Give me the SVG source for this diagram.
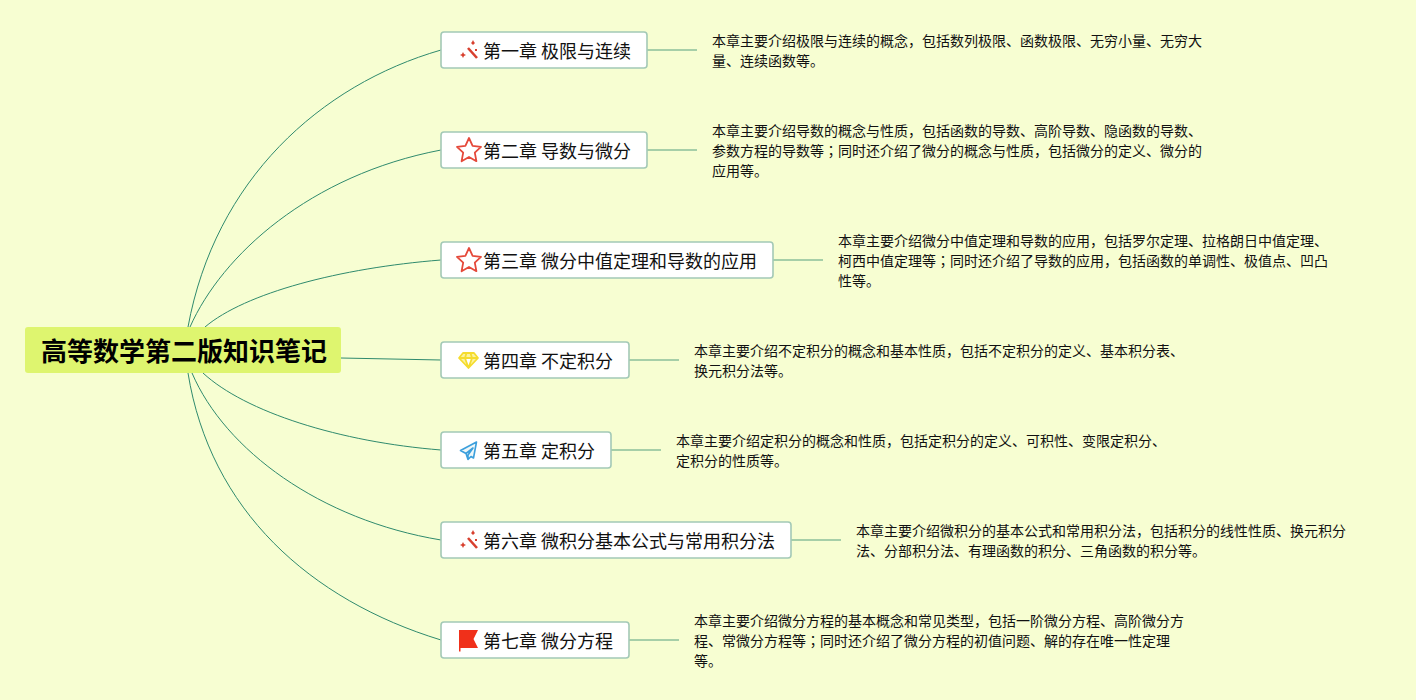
<svg xmlns="http://www.w3.org/2000/svg" width="1416" height="700" viewBox="0 0 1416 700">
<style>
.c{fill:none;stroke:#2f8a6d;stroke-width:1}
.s{fill:none;stroke:#8cc09a;stroke-width:1.6}
.b{fill:#fff;stroke:#a3c9b6;stroke-width:1.6}
.t{font:18px "Noto Sans CJK SC","Liberation Sans",sans-serif;fill:#111}
.d{font:14px "Noto Sans CJK SC","Liberation Sans",sans-serif;fill:#111}
.r{font:bold 26px "Noto Sans CJK SC","Liberation Sans",sans-serif;fill:#000}
.j{font-family:"Noto Sans CJK JP",sans-serif}
</style>
<defs>
<g id="wand"><path d="M-1 -3L8 7" fill="none" stroke="#d8402f" stroke-width="2.600"/><path d="M-9 4l2-1 1-2 1 2 2 1-2 1-1 2-1-2zM2 -8l1-1 1-2 1 2 1 1-1 1-1 1-1-1zM6 -2h2v2h-2z" fill="#d8402f"/></g>
<path id="star" d="M0 -12L3.600 -4.200 12 -3.100 5.800 2.700 7.400 11.200 0 7-7.400 11.200-5.800 2.700-12-3.100-3.600-4.200Z" fill="#fff" stroke="#e5493a" stroke-width="1.800" stroke-linejoin="round"/>
</defs>
<rect width="1416" height="700" fill="#f7fed2"/>
<g id="connectors">
<path class="c" d="M188 327C215 180 320 85 441 50"/>
<path class="c" d="M190 327C222 255 310 175 441 150"/>
<path class="c" d="M205 327C245 293 340 268 441 260"/>
<path class="c" d="M341 358L441 360"/>
<path class="c" d="M203 373C245 412 340 442 441 450"/>
<path class="c" d="M192 373C225 450 320 520 441 540"/>
<path class="c" d="M188 373C210 510 310 600 441 640"/>
<path class="s" d="M647 50H697M647 150H697M773 260H823M629 360H679M611 450H661M791 540H841M629 640H679"/>
</g>
<g id="root"><rect x="25" y="327" width="316" height="46" rx="3" fill="#def56f"/><text class="r" x="41" y="361">高等数学第二版知识笔记</text></g>
<g id="n1"><rect class="b" x="441" y="32" width="206" height="36" rx="3"/><use href="#wand" x="469" y="51"/><text class="t" x="483" y="58">第一章 极限与连续</text></g>
<g id="d1"><text class="d" x="712" y="46">本章主要介绍极限与连续的概念，包括数列极限、函数极限、无穷小量、无穷大</text><text class="d" x="712" y="66">量、连续函数等。</text></g>
<g id="n2"><rect class="b" x="441" y="132" width="206" height="36" rx="3"/><use href="#star" x="469" y="150"/><text class="t" x="483" y="158">第二章 导数与微分</text></g>
<g id="d2"><text class="d" x="712" y="136">本章主要介绍导数的概念与性质，包括函数的导数、高阶导数、隐函数的导数、</text><text class="d" x="712" y="156">参数方程的导数等<tspan class="j">；</tspan>同时还介绍了微分的概念与性质，包括微分的定义、微分的</text><text class="d" x="712" y="176">应用等。</text></g>
<g id="n3"><rect class="b" x="441" y="242" width="332" height="36" rx="3"/><use href="#star" x="469" y="260"/><text class="t" x="483" y="268">第三章 微分中值定理和导数的应用</text></g>
<g id="d3"><text class="d" x="838" y="246">本章主要介绍微分中值定理和导数的应用，包括罗尔定理、拉格朗日中值定理、</text><text class="d" x="838" y="266">柯西中值定理等<tspan class="j">；</tspan>同时还介绍了导数的应用，包括函数的单调性、极值点、凹凸</text><text class="d" x="838" y="286">性等。</text></g>
<g id="n4"><rect class="b" x="441" y="342" width="188" height="36" rx="3"/><path d="M463 353h11l4 5-9.500 10-9.500-10zM459.500 358h18M465 358l3.500 10 3.500-10M465 358l1.500-5M472 358l-1.500-5" fill="#fbf3a0" stroke="#f5dc2e" stroke-width="1.800" stroke-linejoin="round"/><text class="t" x="483" y="368">第四章 不定积分</text></g>
<g id="d4"><text class="d" x="694" y="356">本章主要介绍不定积分的概念和基本性质，包括不定积分的定义、基本积分表、</text><text class="d" x="694" y="376">换元积分法等。</text></g>
<g id="n5"><rect class="b" x="441" y="432" width="170" height="36" rx="3"/><path d="M476.500 442L460.500 450.500 466 453.500 473 448 468 455 468 459.500 471 456.500 473.500 458ZM466 453.500L468 459.500" fill="#eef7f8" stroke="#3c9fdc" stroke-width="1.600" stroke-linejoin="round"/><text class="t" x="483" y="458">第五章 定积分</text></g>
<g id="d5"><text class="d" x="676" y="446">本章主要介绍定积分的概念和性质，包括定积分的定义、可积性、变限定积分、</text><text class="d" x="676" y="466">定积分的性质等。</text></g>
<g id="n6"><rect class="b" x="441" y="522" width="350" height="36" rx="3"/><use href="#wand" x="469" y="541"/><text class="t" x="483" y="548">第六章 微积分基本公式与常用积分法</text></g>
<g id="d6"><text class="d" x="856" y="536">本章主要介绍微积分的基本公式和常用积分法，包括积分的线性性质、换元积分</text><text class="d" x="856" y="556">法、分部积分法、有理函数的积分、三角函数的积分等。</text></g>
<g id="n7"><rect class="b" x="441" y="622" width="188" height="36" rx="3"/><path d="M459 630H478L473.500 639 478 648H460.500V651.500H459Z" fill="#f0301a"/><text class="t" x="483" y="648">第七章 微分方程</text></g>
<g id="d7"><text class="d" x="694" y="626">本章主要介绍微分方程的基本概念和常见类型，包括一阶微分方程、高阶微分方</text><text class="d" x="694" y="646">程、常微分方程等<tspan class="j">；</tspan>同时还介绍了微分方程的初值问题、解的存在唯一性定理</text><text class="d" x="694" y="666">等。</text></g>
</svg>
